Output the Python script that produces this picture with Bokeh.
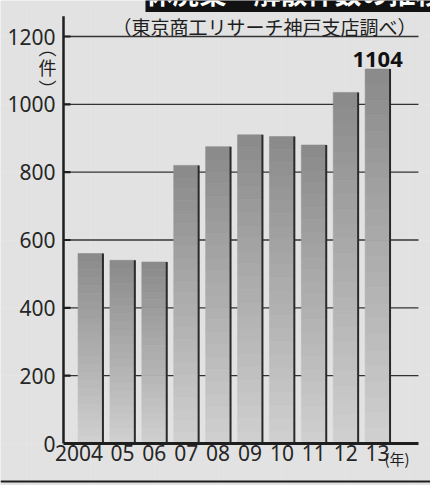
from bokeh.plotting import figure
from bokeh.models import Range1d, Label, BoxAnnotation, ColumnDataSource
from bokeh.core.properties import value
from bokeh.embed import file_html
from bokeh.resources import INLINE

# Annual count of business closures / dissolutions (件), 2004-2013
years = ["2004", "05", "06", "07", "08", "09", "10", "11", "12", "13"]
counts = [560, 540, 535, 820, 875, 910, 905, 880, 1035, 1104]
y_ticks = [0, 200, 400, 600, 800, 1000, 1200]

title = "休廃業・解散件数の推移"
source_note = "（東京商工リサーチ神戸支店調べ）"
y_unit = "︵\n件\n︶"
x_unit = "(年)"

# page geometry (pixels from the top-left corner)
W, H = 430, 485
BAR0_PX, BAR_STEP_PX = 90, 31.9      # centre of the first bar, bar pitch
BASE_PX, TOP_TICK_PX = 443, 36       # pixel rows of 0 and of the top tick
AXIS_PX, RIGHT_PX = 63, 418          # left axis line, right end of the grid

PAPER = "#e2e2e2"
INK = "#1e1e1e"
NUM_FONT = "Noto Sans"
JP_FONT = "Noto Sans CJK JP"
BAR_W = 0.78

n = len(counts)
units_per_px = y_ticks[-1] / (BASE_PX - TOP_TICK_PX)


def data_x(px):
    return (px - BAR0_PX) / BAR_STEP_PX


def data_y(py):
    return (BASE_PX - py) * units_per_px


p = figure(
    width=W, height=H, output_backend="svg", toolbar_location=None,
    x_range=Range1d(data_x(0), data_x(W)), y_range=Range1d(data_y(H), data_y(0)),
    x_axis_location=None, y_axis_location=None, min_border=0,
)
p.background_fill_color = PAPER
p.border_fill_color = PAPER
p.outline_line_color = None

ax_x = data_x(AXIS_PX)
right_x = data_x(RIGHT_PX)

# horizontal rules at every tick, behind the bars
grid_y = y_ticks[1:]
p.segment(x0=[ax_x] * len(grid_y), y0=grid_y, x1=[right_x] * len(grid_y), y1=grid_y,
          line_color="#333333", line_width=1.3)

# bars: vertical shading, dark at the top, pale at the base
SLICES = 24
top_rgb = (0x8a, 0x8a, 0x8a)
base_rgb = (0xd0, 0xd0, 0xd0)
sx, sb, st, sc = [], [], [], []
for i, v in enumerate(counts):
    for k in range(SLICES):
        t = (k + 0.5) / SLICES
        rgb = tuple(round(b + (a - b) * t) for a, b in zip(top_rgb, base_rgb))
        sx.append(i)
        sb.append(v * k / SLICES)
        st.append(v * (k + 1) / SLICES)
        sc.append("#%02x%02x%02x" % rgb)
slices = ColumnDataSource(dict(x=sx, bottom=sb, top=st, color=sc))
p.vbar(x="x", bottom="bottom", top="top", width=BAR_W, source=slices,
       fill_color="color", line_color="color", line_width=0.6)

# dark edge down the right side of each bar
edge_x = [i + BAR_W / 2 for i in range(n)]
p.segment(x0=edge_x, y0=[0] * n, x1=edge_x, y1=counts, line_color="#2a2a2a", line_width=2)

# value axis: line, short inward ticks, labels
p.segment(x0=[ax_x], y0=[0], x1=[ax_x], y1=[y_ticks[-1] + 60], line_color=INK, line_width=2.5)
p.segment(x0=[ax_x] * len(grid_y), y0=grid_y, x1=[data_x(AXIS_PX + 7)] * len(grid_y),
          y1=grid_y, line_color=INK, line_width=2.2)
p.text(x=[ax_x] * len(y_ticks), y=y_ticks, text=[str(t) for t in y_ticks],
       text_align="right", text_baseline="middle", x_offset=-8,
       text_font=value(NUM_FONT), text_font_size="21px", text_color="#262626")

# baseline and year labels (the four-digit first year ends at its bar's right edge)
p.segment(x0=[ax_x], y0=[0], x1=[right_x], y1=[0], line_color=INK, line_width=3)
p.text(x=[0 + BAR_W / 2], y=[0], text=[years[0]], text_align="right",
       text_baseline="top", y_offset=1,
       text_font=value(NUM_FONT), text_font_size="21px", text_color="#262626")
p.text(x=list(range(1, n)), y=[0] * (n - 1), text=years[1:], text_align="center",
       text_baseline="top", y_offset=1,
       text_font=value(NUM_FONT), text_font_size="21px", text_color="#262626")

# value of the latest year above its bar
p.text(x=[n - 1], y=[counts[-1]], text=[str(counts[-1])], text_align="center",
       text_baseline="bottom", y_offset=-2, text_font_size="22px",
       text_font_style="bold", text_color="#111111", text_font=value(NUM_FONT))

# headline band, running off the top edge
p.add_layout(Label(x=442, y=H + 8, x_units="screen", y_units="screen", text=title,
                   text_align="right", text_baseline="middle",
                   text_font=JP_FONT, text_font_size="27px", text_font_style="bold",
                   text_color="white", background_fill_color="#111111"))

p.add_layout(Label(x=112, y=H - 26, x_units="screen", y_units="screen", text=source_note,
                   text_align="left", text_baseline="middle",
                   text_font=JP_FONT, text_font_size="19px", text_color=INK))

p.add_layout(Label(x=47, y=H - 67, x_units="screen", y_units="screen", text=y_unit,
                   text_align="center", text_baseline="middle", text_line_height=0.8,
                   text_font=JP_FONT, text_font_size="18px", text_color=INK))

p.add_layout(Label(x=384, y=H - 458, x_units="screen", y_units="screen", text=x_unit,
                   text_align="left", text_baseline="middle",
                   text_font=JP_FONT, text_font_size="15px", text_color=INK))

# page rule below the chart
p.add_layout(BoxAnnotation(left=0, right=W, bottom=H - 482, top=H - 480,
                           left_units="screen", right_units="screen",
                           bottom_units="screen", top_units="screen",
                           fill_color=INK, fill_alpha=1, line_color=None))

open("out.html", "w").write(file_html(p, INLINE))
